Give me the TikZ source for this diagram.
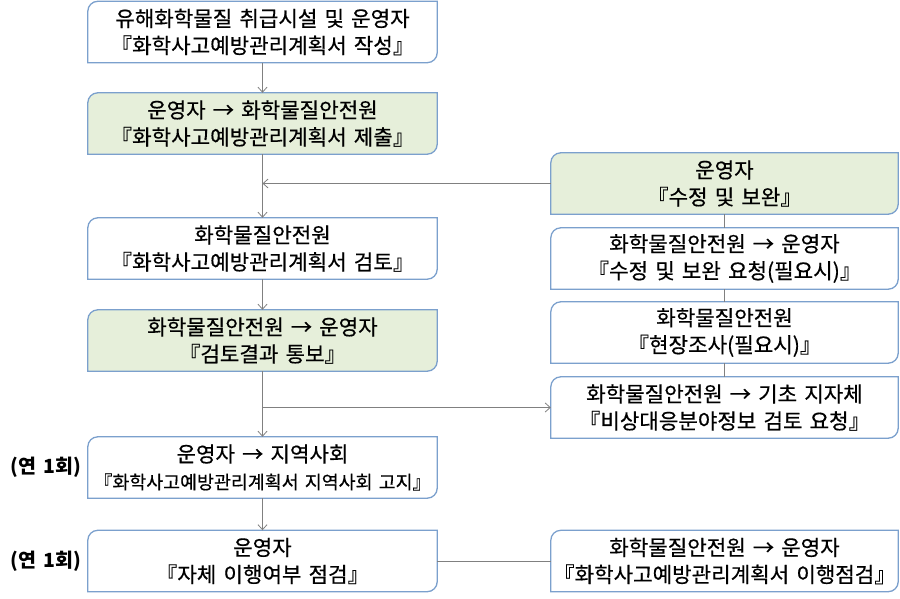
\documentclass[tikz,border=0pt]{standalone}
\usepackage{fontspec}
\setmainfont{Noto Sans CJK KR}[UprightFeatures={FakeBold=0.5}, WordSpace=1.5]
\usepackage{xcolor}
\usepackage{tikz}
\usetikzlibrary{arrows.meta,backgrounds}

\definecolor{boxblue}{HTML}{7BA0CD}
\definecolor{boxgreen}{HTML}{E6EFDA}
\definecolor{linegray}{HTML}{808080}

\begin{document}
\begin{tikzpicture}[x=1pt, y=1pt,
    stepbox/.style={minimum width=349pt, minimum height=61pt, inner sep=0pt,
      align=center, font=\fontsize{21.2}{27}\selectfont},
    rightbox/.style={stepbox, minimum width=347pt},
    arr/.style={draw=linegray, line width=0.8pt, -{Straight Barb[length=5pt,width=9pt]}},
    link/.style={draw=linegray, line width=0.8pt},
    yearly/.style={font=\bfseries\fontsize{19.5}{22}\selectfont}]
    \useasboundingbox (0,0) rectangle (900,598);

    % Main flow
    \node[stepbox] (plan) at (262.5,566) {유해화학물질 취급시설 및 운영자\\『화학사고예방관리계획서 작성』};
    \node[stepbox] (submit) at (262.5,474.5) {운영자 → 화학물질안전원\\『화학사고예방관리계획서 제출』};
    \node[stepbox] (review) at (262.5,349.5) {화학물질안전원\\『화학사고예방관리계획서 검토』};
    \node[stepbox] (notify) at (262.5,257.5) {화학물질안전원 → 운영자\\『검토결과 통보』};
    \node[stepbox] (notice) at (262.5,130.5) {운영자 → 지역사회\\{\fontsize{18.4}{27}\selectfont『화학사고예방관리계획서 지역사회 고지』}};
    \node[stepbox] (selfcheck) at (262.5,37) {운영자\\『자체 이행여부 점검』};

    % Side flow
    \node[rightbox] (revise) at (724.5,414.5) {운영자\\『수정 및 보완』};
    \node[rightbox] (request) at (724.5,339.5) {화학물질안전원 → 운영자\\『수정 및 보완 요청(필요시)』};
    \node[rightbox] (survey) at (724.5,265.5) {화학물질안전원\\『현장조사(필요시)』};
    \node[rightbox] (localreq) at (724.5,190.5) {화학물질안전원 → 기초 지자체\\『비상대응분야정보 검토 요청』};
    \node[rightbox] (inspect) at (724.5,37) {화학물질안전원 → 운영자\\『화학사고예방관리계획서 이행점검』};

    % Frequency labels
    \node[yearly] (year1) at (46,130.5) {(연 1회)};
    \node[yearly] (year2) at (46,37) {(연 1회)};

    % Box outlines
    \begin{pgfonlayer}{background}
    \foreach \n/\c in {plan/white, submit/boxgreen, review/white, notify/boxgreen,
        notice/white, selfcheck/white, revise/boxgreen, request/white,
        survey/white, localreq/white, inspect/white}
      \path[draw=boxblue, line width=1.3pt, fill=\c]
        (\n.south west) -- ([yshift=-10pt]\n.north west)
        arc[start angle=180, end angle=90, radius=10]
        -- (\n.north east) -- ([yshift=10pt]\n.south east)
        arc[start angle=0, end angle=-90, radius=10] -- cycle;
    \end{pgfonlayer}

    % Connectors
    \coordinate (back) at (revise.west -| submit.south);
    \coordinate (branch) at (localreq.west -| notify.south);
    \draw[arr] (plan) -- (submit);
    \draw[arr] (submit) -- (review);
    \draw[arr] (revise.west) -- (back);
    \draw[arr] (review) -- (notify);
    \draw[arr] (notify) -- (notice);
    \draw[arr] (branch) -- (localreq.west);
    \draw[arr] (notice) -- (selfcheck);
    \draw[link] (revise) -- (request);
    \draw[link] (request) -- (survey);
    \draw[link] (survey) -- (localreq);
    \draw[link] (selfcheck) -- (inspect);
\end{tikzpicture}
\end{document}
